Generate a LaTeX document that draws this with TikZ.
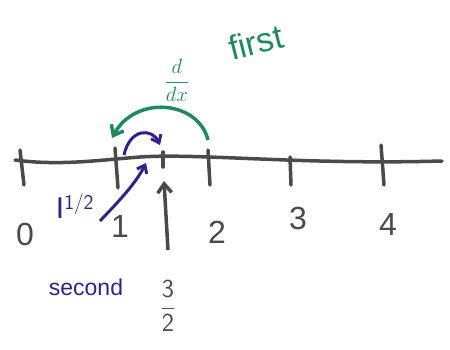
\documentclass[tikz,border=0pt]{standalone}
\usepackage{fontspec}
\setmainfont{Liberation Sans}[Ligatures=NoCommon]
\usetikzlibrary{arrows.meta}
\definecolor{inkgray}{HTML}{4A4A4A}
\definecolor{inkgreen}{HTML}{1F8A5E}
\definecolor{inkpurple}{HTML}{33208C}
\tikzset{
  axis/.style={line width=3.5pt, inkgray, line cap=round},
  tick/.style={line width=3.5pt, inkgray, line cap=round},
  numlabel/.style={text=inkgray, font=\fontsize{32}{32}\selectfont, inner sep=0pt},
  greenarrow/.style={line width=3.5pt, inkgreen, -{Straight Barb[length=9pt,width=14pt,line width=3.5pt]}},
  purplearrow/.style={line width=3pt, inkpurple, -{Straight Barb[length=7pt,width=11pt,line width=3pt]}},
  grayarrow/.style={line width=3.5pt, inkgray, -{Straight Barb[length=9pt,width=14pt,line width=3.5pt]}},
  greentext/.style={text=inkgreen, inner sep=0pt},
  purpletext/.style={text=inkpurple, inner sep=0pt}
}
\begin{document}
\begin{tikzpicture}[x=1pt,y=-1pt]
\useasboundingbox (0,0) rectangle (450,349);
% number line
\coordinate (L) at (15,160);
\coordinate (R) at (442,161);
\draw[axis] (L) .. controls (60,166) and (100,160) .. (140,157) .. controls (200,153) and (300,165) .. (R);
% ticks
\coordinate (t0a) at (20,150); \coordinate (t0b) at (24,185);
\coordinate (t1a) at (115,148); \coordinate (t1b) at (118,188);
\coordinate (t32a) at (163,152); \coordinate (t32b) at (163,167);
\coordinate (t2a) at (208,150); \coordinate (t2b) at (210,185);
\coordinate (t3a) at (290,157); \coordinate (t3b) at (291,185);
\coordinate (t4a) at (381,145); \coordinate (t4b) at (384,185);
\draw[tick] (t0a) -- (t0b);
\draw[tick] (t1a) -- (t1b);
\draw[tick] (t32a) -- (t32b);
\draw[tick] (t2a) -- (t2b);
\draw[tick] (t3a) -- (t3b);
\draw[tick] (t4a) -- (t4b);
% labels
\node[numlabel] (n0) at (25,234) {0};
\node[numlabel] (n1) at (120,226) {1};
\node[numlabel] (n2) at (217,232) {2};
\node[numlabel] (n3) at (298,218) {3};
\node[numlabel] (n4) at (388,224) {4};
% gray up arrow
\coordinate (ga) at (168,250);
\coordinate (gb) at (164,181);
\draw[grayarrow] (ga) -- (gb);
% 3/2
\node[numlabel, font=\fontsize{26}{26}\selectfont] (half) at (168,306) {$\displaystyle\frac{\mathsf{3}}{\mathsf{2}}$};
% green arc
\coordinate (gs) at (208,140);
\coordinate (ge) at (112,138);
\draw[greenarrow] (gs) .. controls (198,100) and (135,95) .. (ge);
\node[greentext, font=\fontsize{22}{22}\selectfont] (ddx) at (177,80) {$\displaystyle\frac{d}{dx}$};
\node[greentext, font=\fontsize{34}{34}\selectfont, rotate=14] (first) at (256,42) {first};
% purple small arc
\coordinate (ps) at (124,155);
\coordinate (pe) at (160,145);
\draw[purplearrow] (ps) .. controls (130,128) and (152,128) .. (pe);
% purple I^{1/2} arrow
\coordinate (pa) at (100,221);
\coordinate (pb) at (146,163);
\draw[purplearrow] (pa) .. controls (115,205) and (135,185) .. (pb);
\node[purpletext, font=\fontsize{30}{30}\selectfont] (I) at (75,206) {I$^{\mathsf{1/2}}$};
\node[purpletext, font=\fontsize{23}{23}\selectfont] (sec) at (86,287) {second};
\end{tikzpicture}
\end{document}
